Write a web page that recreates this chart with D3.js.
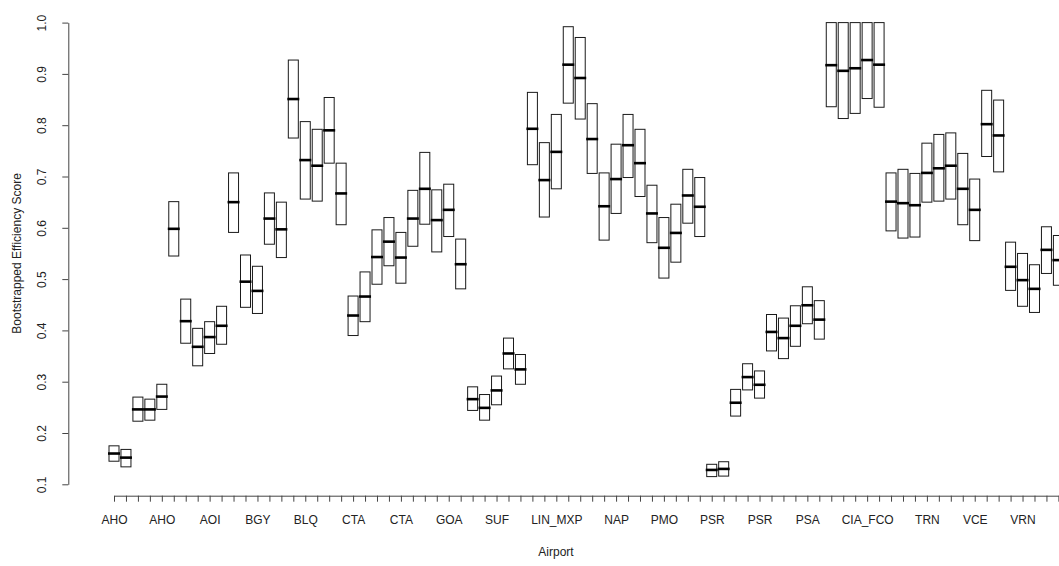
<!DOCTYPE html>
<html>
<head>
<meta charset="utf-8">
<script src="https://cdn.jsdelivr.net/npm/d3@7"></script>
<style>
  html, body { margin: 0; padding: 0; background: #fff; }
  svg { display: block; }
  text { font-family: "Liberation Sans", Arial, sans-serif; fill: #222; }
</style>
</head>
<body>
<svg id="chart" width="1059" height="566"></svg>
<script>
// ---- data ----
const tickLabels = [
  "AHO","","","","AHO","","","","AOI","","","","BGY","","","","BLQ","","","",
  "CTA","","","","CTA","","","","GOA","","","","SUF","","","","","LIN_MXP","","",
  "","","NAP","","","","PMO","","","","PSR","","","","PSR","","","","PSA","",
  "","","","CIA_FCO","","","","","TRN","","","","VCE","","","","VRN","","",""
];
const lows = [
  0.145,0.134,0.223,0.225,0.246,0.545,0.375,0.331,0.355,0.373,
  0.591,0.445,0.433,0.568,0.542,0.775,0.656,0.652,0.726,0.606,
  0.390,0.417,0.490,0.526,0.492,0.564,0.607,0.553,0.583,0.481,
  0.244,0.225,0.255,0.325,0.295,0.723,0.621,0.676,0.843,0.812,
  0.706,0.576,0.628,0.698,0.661,0.571,0.502,0.533,0.609,0.583,
  0.115,0.116,0.233,0.284,0.268,0.360,0.345,0.369,0.413,0.383,
  0.836,0.813,0.823,0.852,0.835,0.594,0.580,0.582,0.650,0.652,
  0.656,0.606,0.575,0.739,0.709,0.478,0.447,0.435,0.511,0.488
];
const medians = [
  0.160,0.152,0.246,0.246,0.271,0.598,0.418,0.368,0.387,0.409,
  0.650,0.495,0.477,0.618,0.597,0.851,0.732,0.721,0.790,0.667,
  0.429,0.466,0.543,0.573,0.542,0.618,0.676,0.615,0.635,0.529,
  0.266,0.249,0.283,0.355,0.324,0.793,0.693,0.748,0.918,0.892,
  0.773,0.642,0.695,0.761,0.726,0.628,0.561,0.590,0.663,0.641,
  0.128,0.130,0.259,0.309,0.294,0.397,0.385,0.409,0.449,0.421,
  0.917,0.906,0.911,0.927,0.918,0.651,0.648,0.644,0.707,0.716,
  0.721,0.676,0.635,0.802,0.780,0.524,0.498,0.481,0.557,0.537
];
const highs = [
  0.175,0.168,0.270,0.266,0.295,0.651,0.461,0.404,0.417,0.447,
  0.707,0.547,0.525,0.668,0.650,0.927,0.807,0.792,0.854,0.726,
  0.467,0.514,0.596,0.620,0.591,0.673,0.747,0.674,0.685,0.578,
  0.290,0.275,0.311,0.385,0.353,0.864,0.766,0.821,0.992,0.971,
  0.842,0.707,0.763,0.821,0.792,0.683,0.620,0.646,0.714,0.698,
  0.139,0.144,0.285,0.335,0.321,0.431,0.424,0.448,0.485,0.458,
  1.000,1.000,1.000,1.000,1.000,0.707,0.714,0.706,0.765,0.782,
  0.785,0.745,0.695,0.868,0.849,0.572,0.550,0.528,0.602,0.585
];
const yTicks = [0.1,0.2,0.3,0.4,0.5,0.6,0.7,0.8,0.9,1.0];
const xTitle = "Airport";
const yTitle = "Bootstrapped Efficiency Score";

// ---- drawing ----
const svg = d3.select("#chart");
svg.append("rect").attr("width",1059).attr("height",566).attr("fill","#fff");

const n = medians.length;
const idx = d3.range(1, n + 1);
const x = d3.scaleLinear().domain([1, n]).range([114, 1058.4]);
const y = d3.scaleLinear().domain([0.1, 1.0]).range([484.3, 22.6]);
const axisY = 495.7, axisX = 68.3;
const halfW = 5;

const data = idx.map(i => ({i, lo: lows[i-1], med: medians[i-1], hi: highs[i-1]}));

const g = svg.append("g");
g.selectAll("rect.box").data(data).enter().append("rect")
  .attr("class","box")
  .attr("x", d => x(d.i) - halfW)
  .attr("y", d => y(d.hi))
  .attr("width", halfW * 2)
  .attr("height", d => y(d.lo) - y(d.hi))
  .attr("fill","none")
  .attr("stroke","#1a1a1a")
  .attr("stroke-width",1);

g.selectAll("line.med").data(data).enter().append("line")
  .attr("class","med")
  .attr("x1", d => x(d.i) - halfW - 1)
  .attr("x2", d => x(d.i) + halfW + 1)
  .attr("y1", d => y(d.med))
  .attr("y2", d => y(d.med))
  .attr("stroke","#000")
  .attr("stroke-width",2.6);

// x axis
const xAxis = d3.axisBottom(x)
  .tickValues(idx)
  .tickSize(6)
  .tickSizeOuter(0)
  .tickPadding(0)
  .tickFormat(i => tickLabels[i-1]);
const gx = svg.append("g").attr("transform",`translate(0,${axisY})`).call(xAxis);
gx.select(".domain").attr("stroke","#444");
gx.selectAll(".tick line").attr("stroke","#444");
gx.selectAll(".tick text")
  .attr("y", 28.6).attr("dy", null)
  .style("font-size","12px")
  .style("font-family",'"Liberation Sans", Arial, sans-serif')
  .attr("fill","#222");

// y axis
const yAxis = d3.axisLeft(y)
  .tickValues(yTicks)
  .tickSize(6)
  .tickSizeOuter(0)
  .tickFormat(d3.format(".1f"));
const gy = svg.append("g").attr("transform",`translate(${axisX},0)`).call(yAxis);
gy.select(".domain").attr("stroke","#444");
gy.selectAll(".tick line").attr("stroke","#444");
gy.selectAll(".tick text")
  .attr("x", null).attr("dy", null)
  .attr("text-anchor","middle")
  .attr("transform","translate(-22,0) rotate(-90)")
  .style("font-size","12px")
  .style("font-family",'"Liberation Sans", Arial, sans-serif')
  .attr("fill","#222");

// titles
svg.append("text")
  .attr("x", 556).attr("y", 556)
  .attr("text-anchor","middle")
  .style("font-size","12px")
  .text(xTitle);
svg.append("text")
  .attr("transform", `translate(21,${(y(0.1)+y(1.0))/2}) rotate(-90)`)
  .attr("text-anchor","middle")
  .style("font-size","12px")
  .text(yTitle);
</script>
</body>
</html>
